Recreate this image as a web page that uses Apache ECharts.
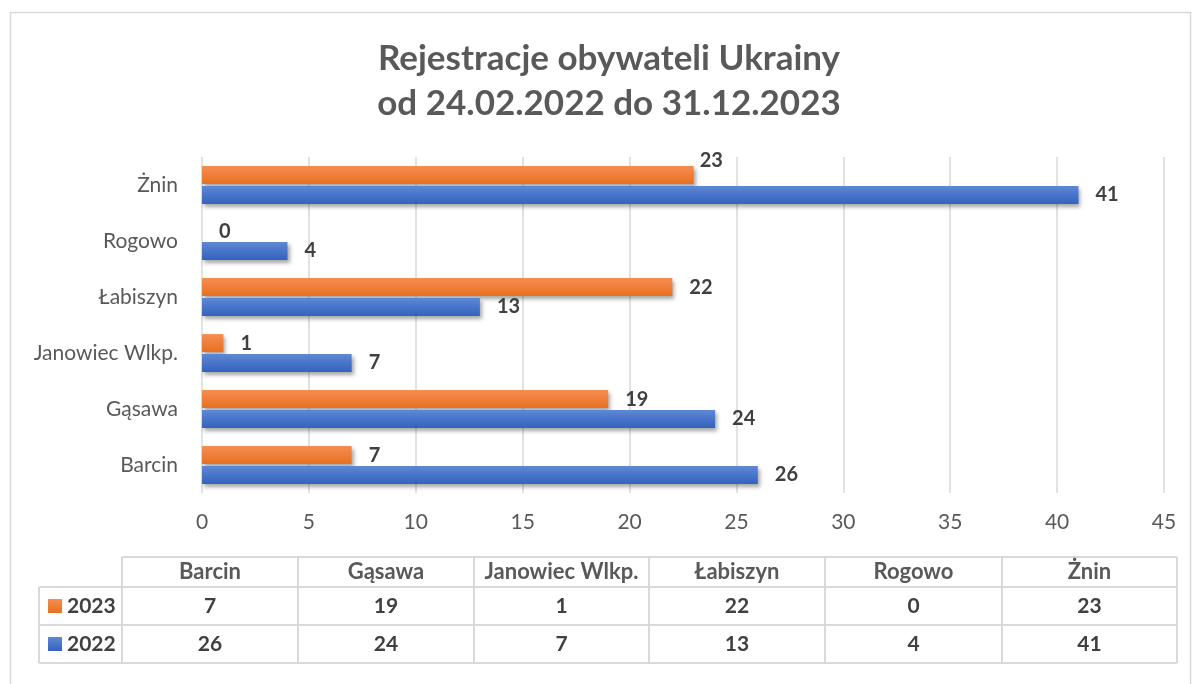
<!DOCTYPE html>
<html>
<head>
<meta charset="utf-8">
<script src="https://cdn.jsdelivr.net/npm/echarts@6/dist/echarts.min.js"></script>
<style>
  html, body { margin: 0; padding: 0; background: #fff; }
  #main { width: 1192px; height: 684px; }
</style>
</head>
<body>
<div id="main"></div>
<script>
// dane z wykresu
const gminy = ['Barcin', 'Gąsawa', 'Janowiec Wlkp.', 'Łabiszyn', 'Rogowo', 'Żnin']
const lata = ['2023', '2022']
const dane2023 = [7, 19, 1, 22, 0, 23]
const dane2022 = [26, 24, 7, 13, 4, 41]
const osX = [0, 5, 10, 15, 20, 25, 30, 35, 40, 45]

const font = 'Lato, "Open Sans", sans-serif'
const kolory = {
  '2023': ['#f58d52', '#e8701f'],
  '2022': ['#5f88d4', '#3363bf']
}

function gradient (c) {
  return new echarts.graphic.LinearGradient(0, 0, 0, 1, [
    { offset: 0, color: c[0] },
    { offset: 1, color: c[1] }
  ])
}

function seria (name, values) {
  return {
    name: name,
    type: 'bar',
    barWidth: 18,
    barGap: '10%',
    data: values.map((v, i) => {
      const item = { value: v }
      // etykieta Żnin 2023 przesunięta w górę jak w oryginale
      if (name === '2023' && i === 5) item.label = { offset: [-11, -15] }
      return item
    }),
    itemStyle: {
      color: gradient(kolory[name]),
      shadowColor: 'rgba(0,0,0,0.35)',
      shadowBlur: 4,
      shadowOffsetX: 2,
      shadowOffsetY: 3
    },
    label: {
      show: true,
      position: 'right',
      distance: 17,
      fontFamily: font,
      fontWeight: 'bold',
      fontSize: 20,
      color: '#404040'
    }
  }
}

// tabela danych pod wykresem
const kolumny = [122, 298, 474, 649, 825, 1002, 1177]
const wiersze = [557, 587, 625, 663]
const linia = { stroke: '#d9d9d9', lineWidth: 2 }

function tabela () {
  const g = []
  // ramki
  g.push({ type: 'line', shape: { x1: kolumny[0], y1: wiersze[0], x2: kolumny[6], y2: wiersze[0] }, style: linia })
  for (let r = 1; r < wiersze.length; r++) {
    g.push({ type: 'line', shape: { x1: 39, y1: wiersze[r], x2: kolumny[6], y2: wiersze[r] }, style: linia })
  }
  g.push({ type: 'line', shape: { x1: 39, y1: wiersze[1], x2: 39, y2: wiersze[3] }, style: linia })
  for (const x of kolumny) {
    g.push({ type: 'line', shape: { x1: x, y1: wiersze[0], x2: x, y2: wiersze[3] }, style: linia })
  }
  // nagłówki
  gminy.forEach((n, i) => {
    g.push({
      type: 'text',
      x: (kolumny[i] + kolumny[i + 1]) / 2,
      y: (wiersze[0] + wiersze[1]) / 2,
      style: { text: n, font: 'bold 22px ' + font, fill: '#595959', align: 'center', verticalAlign: 'middle' }
    })
  })
  // wiersze z wartościami
  const wartosci = { '2023': dane2023, '2022': dane2022 }
  lata.forEach((rok, r) => {
    const cy = (wiersze[r + 1] + wiersze[r + 2]) / 2
    g.push({
      type: 'rect',
      shape: { x: 48, y: cy - 7, width: 14, height: 14 },
      style: { fill: gradient(kolory[rok]) }
    })
    g.push({
      type: 'text', x: 67, y: cy,
      style: { text: rok, font: 'bold 21px ' + font, fill: '#404040', align: 'left', verticalAlign: 'middle' }
    })
    wartosci[rok].forEach((v, i) => {
      g.push({
        type: 'text',
        x: (kolumny[i] + kolumny[i + 1]) / 2,
        y: cy,
        style: { text: String(v), font: 'bold 21px ' + font, fill: '#404040', align: 'center', verticalAlign: 'middle' }
      })
    })
  })
  // tytuł wyśrodkowany nad obszarem wykresu jak w oryginale
  g.push({
    type: 'text',
    x: 609,
    y: 36,
    style: {
      text: 'Rejestracje obywateli Ukrainy\nod 24.02.2022 do 31.12.2023',
      font: 'bold 35px ' + font,
      fill: '#595959',
      align: 'center',
      verticalAlign: 'top',
      lineHeight: 45
    }
  })
  // ramka całego wykresu
  g.push({
    type: 'rect',
    shape: { x: 10.5, y: 12.5, width: 1180, height: 680 },
    style: { fill: 'none', stroke: '#d9d9d9', lineWidth: 1.5 }
  })
  return g
}

const myChart = echarts.init(document.getElementById('main'))
myChart.setOption({
  animation: false,
  backgroundColor: '#fff',
  grid: {
    left: 202,
    right: 28,
    top: 157,
    bottom: 191
  },
  xAxis: {
    type: 'value',
    min: osX[0],
    max: osX[osX.length - 1],
    interval: osX[1] - osX[0],
    axisLine: { show: false },
    axisTick: { show: false },
    splitLine: { lineStyle: { color: '#d9d9d9', width: 1.5 } },
    axisLabel: {
      margin: 19,
      fontFamily: font,
      fontSize: 21,
      color: '#595959'
    }
  },
  yAxis: {
    type: 'category',
    data: gminy,
    axisLine: { show: false },
    axisTick: { show: false },
    axisLabel: {
      margin: 24,
      fontFamily: font,
      fontSize: 21,
      color: '#595959'
    }
  },
  series: [
    seria('2023', dane2023),
    seria('2022', dane2022)
  ],
  graphic: tabela()
})
</script>
</body>
</html>
